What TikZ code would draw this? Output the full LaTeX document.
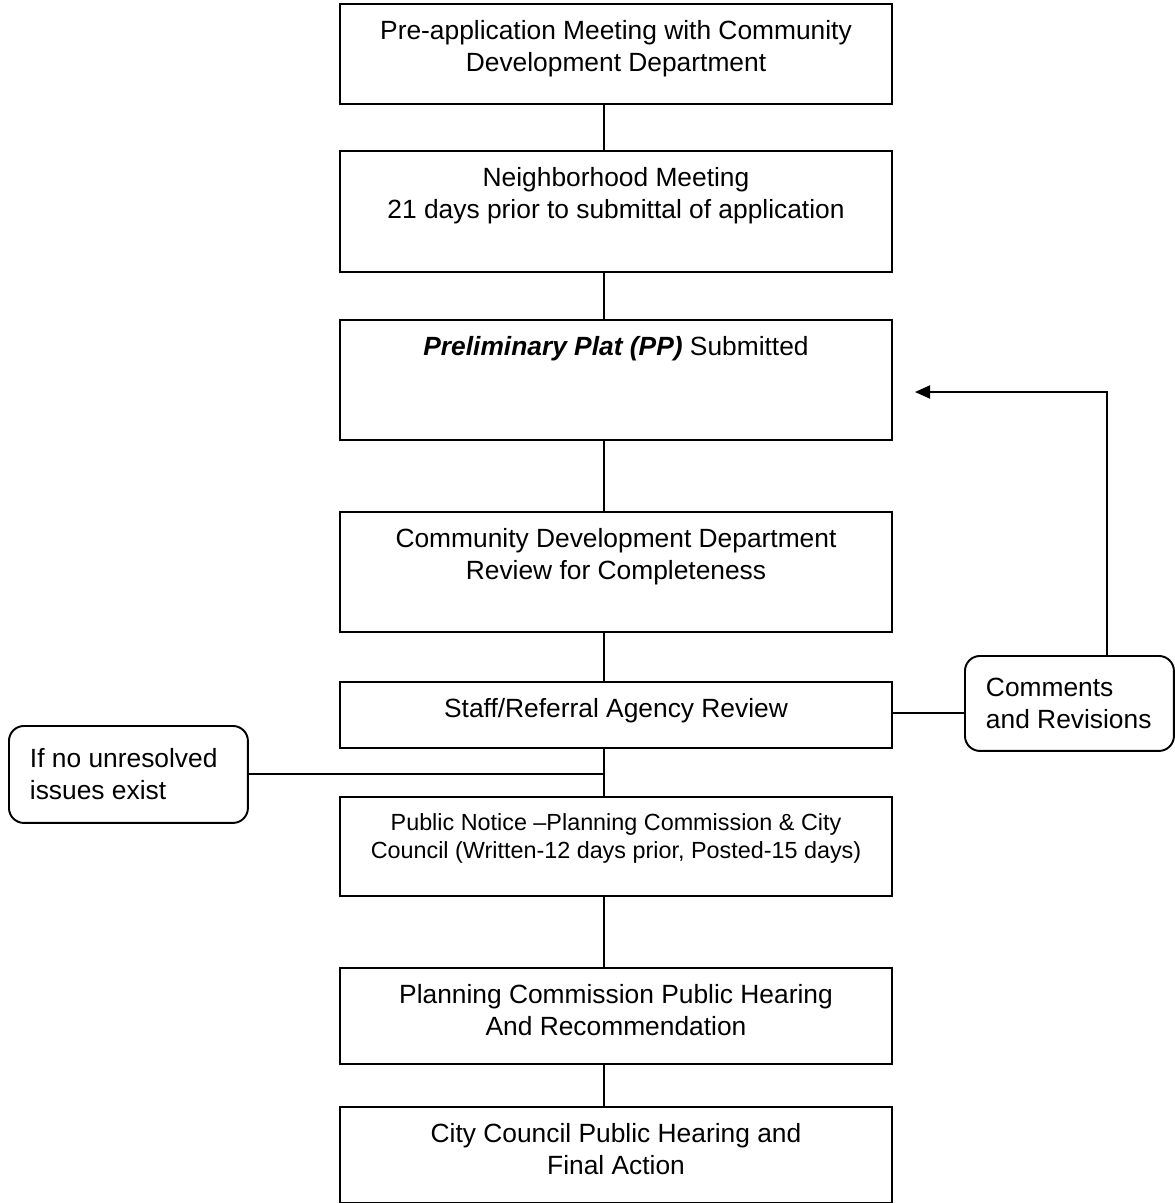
\documentclass[tikz,border=0pt]{standalone}
\usepackage{fontspec}
\setmainfont{Liberation Sans}
\usetikzlibrary{arrows.meta}

% text of a stage box, set from the top of the box
\newcommand{\stagetext}[2]{%
  \begin{minipage}[c][#1][t]{11.04cm}\centering
  \vspace*{0.33cm}#2\end{minipage}}

\tikzset{
  stage/.style={draw, inner sep=0pt, anchor=north},
  note/.style={draw, rounded corners=0.3cm, inner xsep=0.42cm, inner ysep=0pt,
    align=flush left, anchor=north west}
}

\begin{document}
\begin{tikzpicture}[x=0.02cm, y=-0.02cm, line width=1.1pt,
    font=\fontsize{15}{18.2}\selectfont]

    \useasboundingbox (0,0) rectangle (1175,1203);

    % Stages, top to bottom
    \node[stage] (pre) at (616,3)
        {\stagetext{2.0cm}{Pre-application Meeting with Community\\ Development Department}};
    \node[stage] (hood) at (616,150)
        {\stagetext{2.42cm}{Neighborhood Meeting\\ 21 days prior to submittal of application}};
    \node[stage] (plat) at (616,319)
        {\stagetext{2.4cm}{\textbf{\textit{Preliminary Plat (PP)}} Submitted}};
    \node[stage] (check) at (616,511)
        {\stagetext{2.4cm}{Community Development Department\\ Review for Completeness}};
    \node[stage] (staff) at (616,681)
        {\stagetext{1.32cm}{Staff/Referral Agency Review}};
    \node[stage] (notice) at (616,796)
        {\stagetext{1.98cm}{\fontsize{13.3}{15.9}\selectfont Public Notice –Planning Commission \& City\\ Council (Written-12 days prior, Posted-15 days)}};
    \node[stage] (hearing) at (616,967)
        {\stagetext{1.92cm}{Planning Commission Public Hearing\\ And Recommendation}};
    \node[stage] (council) at (616,1106)
        {\stagetext{1.92cm}{City Council Public Hearing and\\ Final Action}};

    % Side notes
    \node[note, text width=3.94cm, minimum height=1.94cm] (issues) at (8,725)
        {If no unresolved\\ issues exist};
    \node[note, text width=3.34cm, minimum height=1.9cm] (comments) at (964,655)
        {Comments\\ and Revisions};

    % Vertical connectors (off centre, as drawn)
    \coordinate (spine) at (604,0);
    \foreach \a/\b in {pre/hood, hood/plat, plat/check, check/staff,
                       staff/notice, notice/hearing, hearing/council} {
        \draw (\a.south -| spine) -- (\b.north -| spine);
    }

    % Side links
    \draw (issues.east) -- (issues.east -| spine);
    \draw ([yshift=0.04cm]staff.east) -- ([yshift=0.04cm]staff.east -| comments.west);

    % Loop back to the submittal
    \coordinate (turn) at (1107,392);
    \coordinate (back) at (915,392);
    \draw[-{Triangle[length=0.3cm, width=0.26cm]}]
        (comments.north -| turn) -- (turn) -- (back);

\end{tikzpicture}
\end{document}
